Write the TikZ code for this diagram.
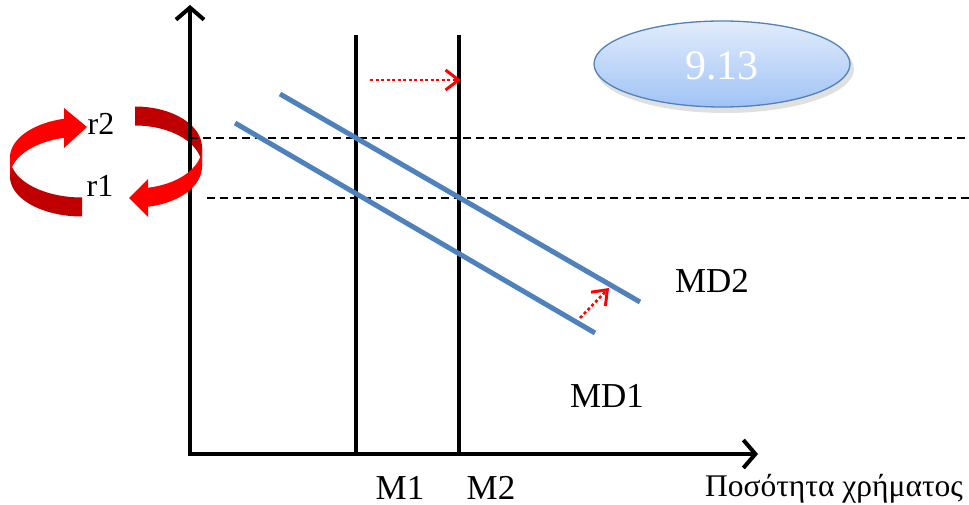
\documentclass[tikz,border=0pt]{standalone}
\usepackage{fontspec}
\setmainfont{Liberation Serif}
\usetikzlibrary{arrows.meta}
\definecolor{mdblue}{RGB}{79,129,189}
\definecolor{brightred}{RGB}{255,0,0}
\definecolor{darkred}{RGB}{192,0,0}
\definecolor{elltop}{RGB}{226,236,252}
\definecolor{ellbot}{RGB}{160,195,245}
\tikzset{
  axis/.style={line width=4pt, line join=miter},
  mline/.style={line width=4pt},
  rline/.style={line width=1.3pt, dash pattern=on 8pt off 5pt},
  mdline/.style={line width=5pt, mdblue},
  shiftarrow/.style={red, line width=2.6pt, dash pattern=on 3pt off 2.5pt, -{Straight Barb[length=13pt,width=20pt,line width=3pt]}},
  lbl/.style={font=\fontsize{35}{40}\selectfont, inner sep=0pt},
  rlbl/.style={font=\fontsize{32}{36}\selectfont, inner sep=0pt},
}
\begin{document}
\begin{tikzpicture}[x=1pt,y=-1pt]
\useasboundingbox (0,0) rectangle (969,505);
% coordinates
\coordinate (O) at (190,454);
\coordinate (Ytip) at (190,5);
\coordinate (Xtip) at (758,454);
\coordinate (M1b) at (356,454);
\coordinate (M1t) at (356,35);
\coordinate (M2b) at (459,454);
\coordinate (M2t) at (459,35);
\coordinate (r2a) at (190,138);
\coordinate (r2b) at (969,138);
\coordinate (r1a) at (207,198);
\coordinate (r1b) at (969,198);
\coordinate (MD1a) at (235,123);
\coordinate (MD1b) at (595,333);
\coordinate (MD2a) at (280,94);
\coordinate (MD2b) at (640,302);
\coordinate (sa) at (370,80);
\coordinate (sb) at (461,80);
\coordinate (da) at (580,318);
\coordinate (db) at (609,288);
% dark (back) parts of the circular arrows
\fill[darkred] plot[domain=90:180,samples=40] ({82+72*cos(\x)},{167+40*sin(\x)-9.5}) -- plot[domain=180:90,samples=40] ({82+72*cos(\x)},{167+40*sin(\x)+9.5}) -- cycle;
\fill[darkred] plot[domain=270:360,samples=40] ({135+67*cos(\x)},{157+41*sin(\x)-9.5}) -- plot[domain=360:270,samples=40] ({135+67*cos(\x)},{157+41*sin(\x)+9.5}) -- cycle;
% dashed interest-rate lines
\draw[rline] (r2a) -- (r2b);
\draw[rline] (r1a) -- (r1b);
% axes
\draw[axis, {Straight Barb[length=12pt,width=28pt]}-{Straight Barb[length=12pt,width=28pt]}] (Ytip) -- (O) -- (Xtip);
% money supply lines
\draw[mline] (M1b) -- (M1t);
\draw[mline] (M2b) -- (M2t);
% money demand lines
\draw[mdline] (MD1a) -- (MD1b);
\draw[mdline] (MD2a) -- (MD2b);
% shift arrows
\draw[shiftarrow] (sa) -- (sb);
\draw[shiftarrow] (da) -- (db);
% bright (front) parts of the circular arrows
\fill[brightred] plot[domain=180:256,samples=40] ({82+72*cos(\x)},{167+40*sin(\x)-9.5}) -- plot[domain=256:180,samples=40] ({82+72*cos(\x)},{167+40*sin(\x)+9.5}) -- cycle;
\fill[brightred] (64,108) -- (87,127) -- (64,148) -- cycle;
\fill[brightred] plot[domain=0:80,samples=40] ({135+67*cos(\x)},{157+41*sin(\x)-9.5}) -- plot[domain=80:0,samples=40] ({135+67*cos(\x)},{157+41*sin(\x)+9.5}) -- cycle;
\fill[brightred] (148,179) -- (129,198) -- (148,217) -- cycle;
% ellipse
\fill[black!12] (725,69) ellipse [x radius=129, y radius=44];
\shade[top color=elltop, bottom color=ellbot] (722,64) ellipse [x radius=128, y radius=43];
\draw[mdblue, line width=1.3pt] (722,64) ellipse [x radius=128, y radius=43];
\node[white, font=\fontsize{42}{46}\selectfont, inner sep=0pt] (num) at (722,66) {9.13};
% labels
\node[rlbl] (r2) at (101,124) {r2};
\node[rlbl] (r1) at (100,186) {r1};
\node[lbl] (md2) at (712,281) {MD2};
\node[lbl] (md1) at (607,396) {MD1};
\node[lbl] (m1) at (400,488) {M1};
\node[lbl] (m2) at (491,488) {M2};
\node[font=\fontsize{31.5}{35}\selectfont, inner sep=0pt] (q) at (834,489) {Ποσότητα χρήματος};
\end{tikzpicture}
\end{document}
